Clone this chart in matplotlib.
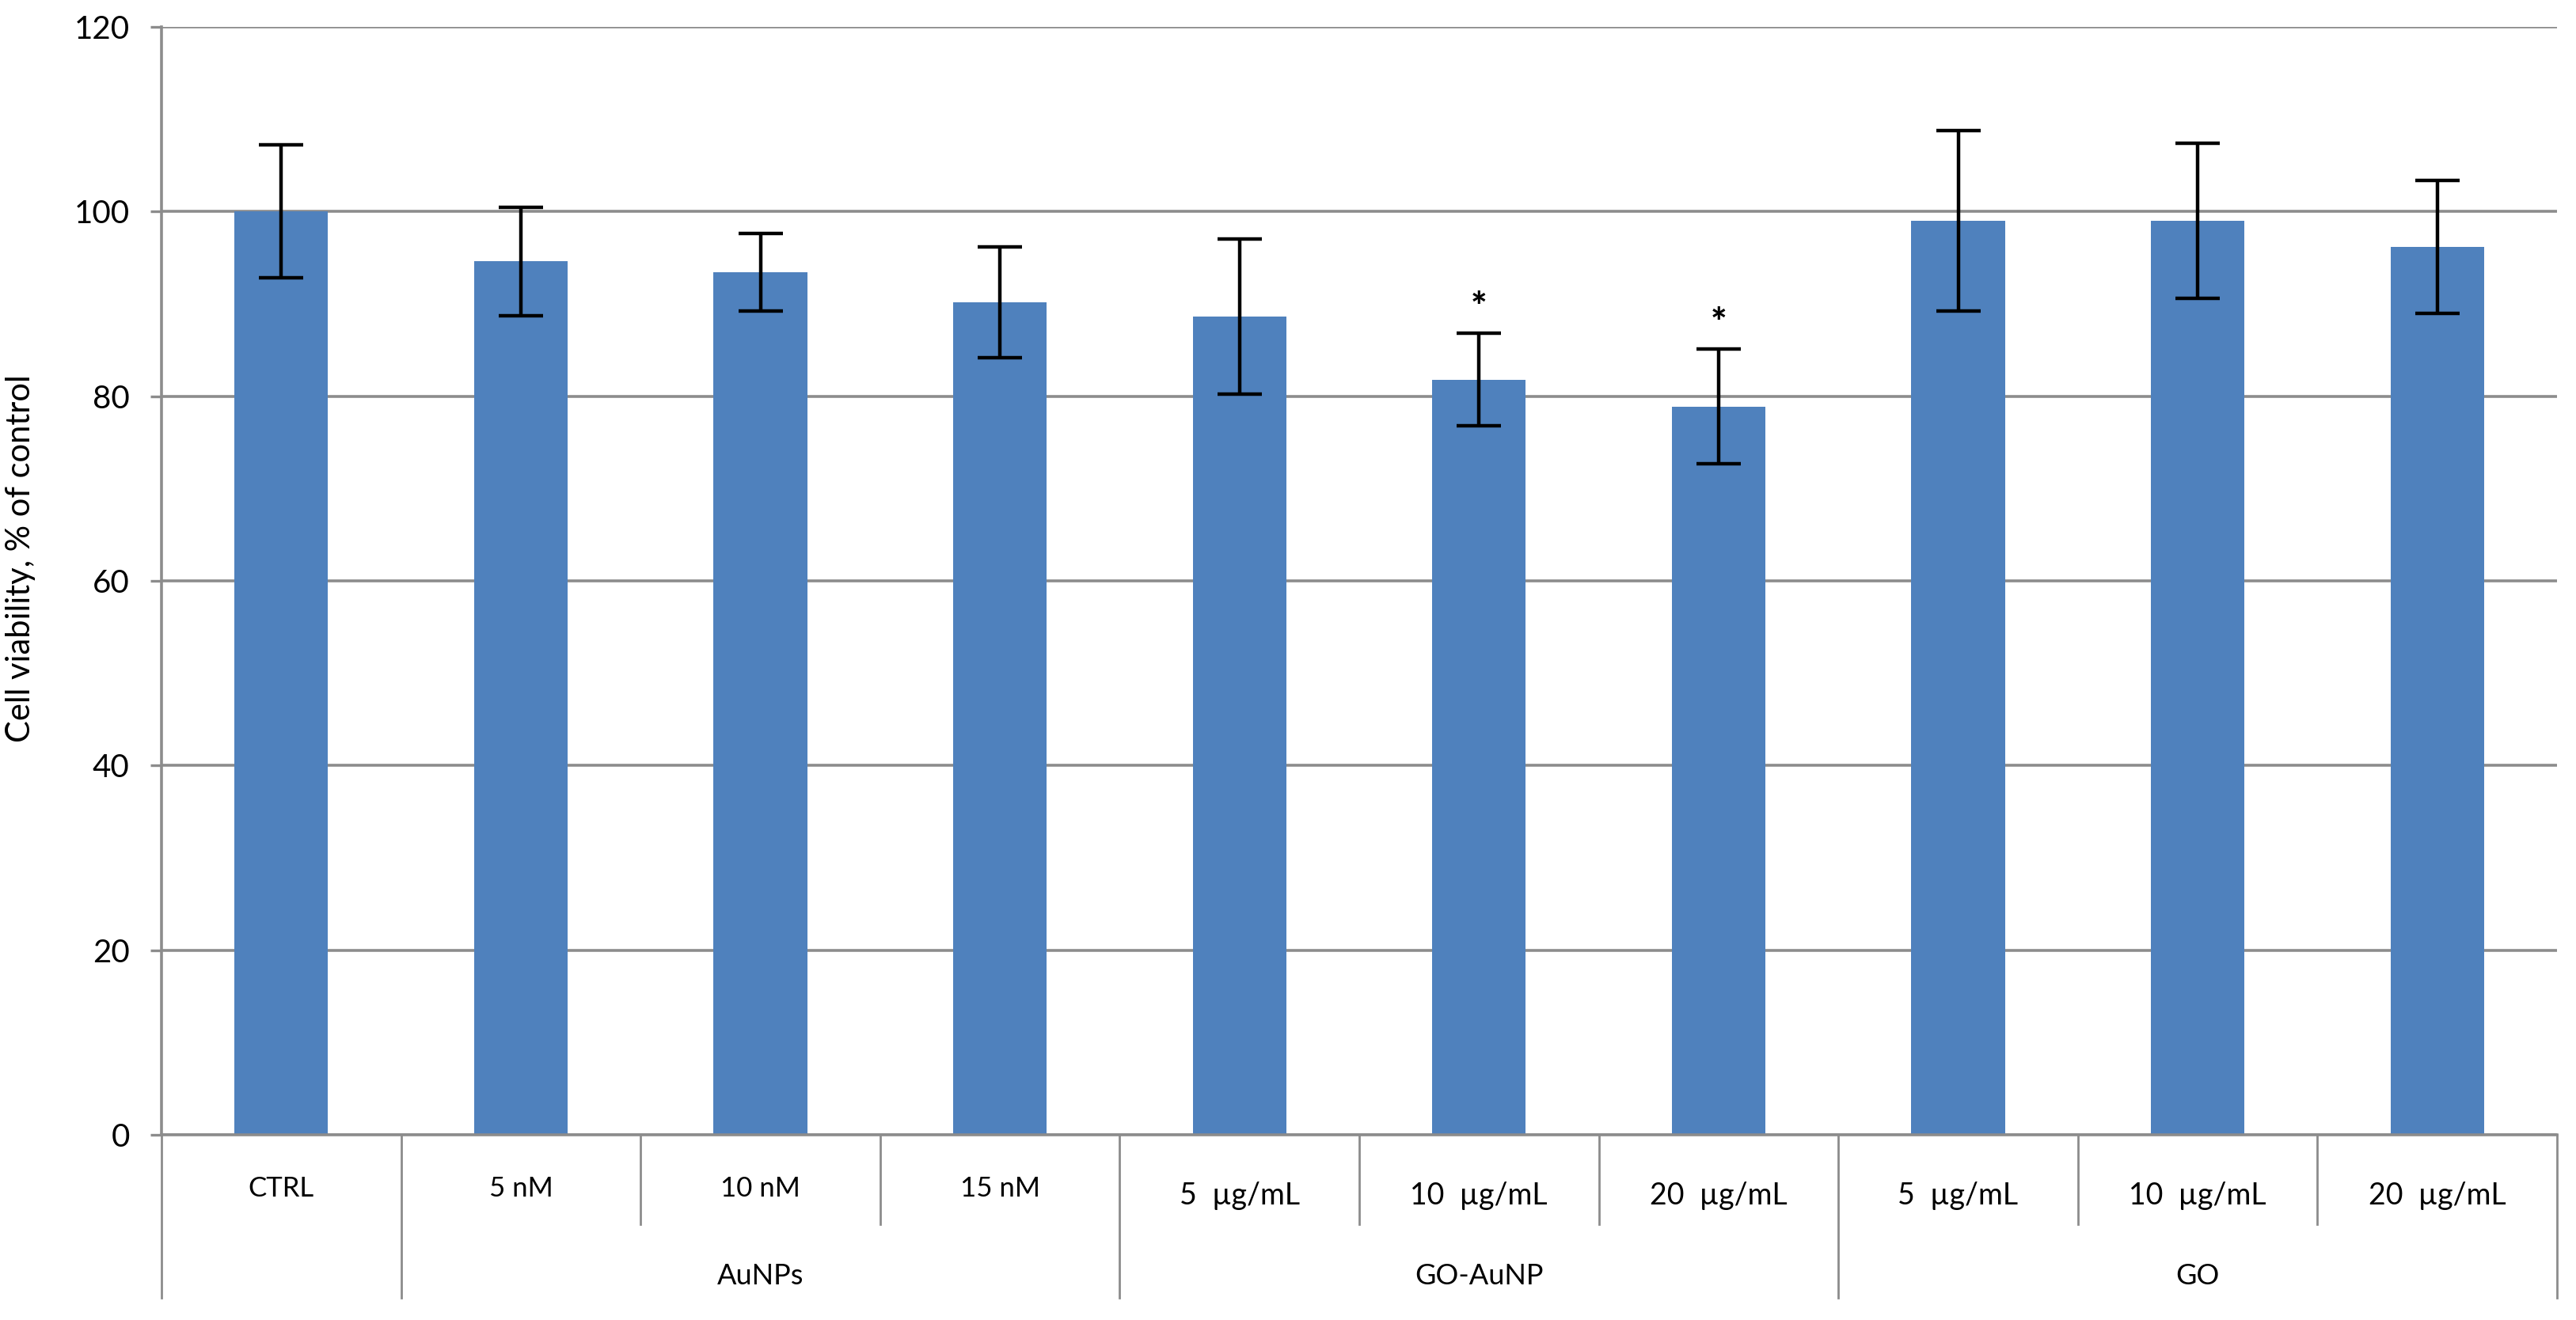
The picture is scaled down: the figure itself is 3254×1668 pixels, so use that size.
import matplotlib
matplotlib.use("Agg")
import matplotlib.pyplot as plt
import matplotlib.transforms as mtransforms

plt.rcParams['font.family'] = ['Lato', 'DejaVu Sans']

# data
conditions = ["CTRL", "5 nM", "10 nM", "15 nM",
              "5  µg/mL", "10  µg/mL", "20  µg/mL",
              "5  µg/mL", "10  µg/mL", "20  µg/mL"]
groups = ["", "AuNPs", "GO-AuNP", "GO"]
group_sizes = [1, 3, 3, 3]
viability = [100.0, 94.6, 93.4, 90.2, 88.6, 81.8, 78.9, 99.0, 99.0, 96.2]
errors = [7.2, 5.9, 4.2, 6.0, 8.4, 5.0, 6.2, 9.8, 8.4, 7.2]
significant = [False, False, False, False, False, True, True, False, False, False]
yticks = [0, 20, 40, 60, 80, 100, 120]

W, H = 3255, 1668
DPI = 100
fig = plt.figure(figsize=(W / DPI, H / DPI), dpi=DPI)
left_px, right_px, top_px, zero_px = 204, 3230, 34, 1434
ax = fig.add_axes([left_px / W, 1 - zero_px / H,
                   (right_px - left_px) / W, (zero_px - top_px) / H])

grey = "#8c8c8c"
bar_blue = "#4f81bd"

x = list(range(len(conditions)))
ax.bar(x, viability, width=0.39, color=bar_blue, zorder=2)
ax.errorbar(x, viability, yerr=errors, fmt="none", ecolor="black",
            elinewidth=3.2, capsize=20, capthick=3.2, zorder=3)

for xi, v, e, s in zip(x, viability, errors, significant):
    if s:
        ax.annotate("*", (xi, v + e), xytext=(0, 6), textcoords="offset points",
                    ha="center", va="bottom", fontsize=35, fontweight="black")

ax.set_xlim(-0.5, len(conditions) - 0.5)
ax.set_ylim(0, 120)
ax.set_yticks(yticks)
ax.yaxis.grid(True, color=grey, linewidth=2.6, zorder=0)
ax.set_axisbelow(True)
ax.tick_params(axis="y", length=10, width=2.4, color=grey, pad=19, labelsize=29)
ax.set_xticks([])
for side in ["top", "right"]:
    ax.spines[side].set_visible(False)
for side in ["left", "bottom"]:
    ax.spines[side].set_color(grey)
    ax.spines[side].set_linewidth(2.6)

ax.set_ylabel("Cell viability, % of control", fontsize=30)
ax.yaxis.set_label_coords(-0.0525, 0.52)

# two-level category axis below the plot
trans = mtransforms.blended_transform_factory(ax.transData, ax.transAxes)
plot_h = zero_px - top_px


def fy(py):
    return (zero_px - py) / plot_h


for xi, lab in zip(x, conditions):
    if "µg" in lab:
        ax.text(xi, fy(1522), lab, transform=trans, ha="center",
                va="baseline", fontsize=27)
    else:
        ax.text(xi, fy(1512), lab, transform=trans, ha="center",
                va="baseline", fontsize=25)

start = 0
long_edges = [-0.5]
for g, n in zip(groups, group_sizes):
    centre = start + (n - 1) / 2
    if g:
        ax.text(centre, fy(1623), g, transform=trans, ha="center",
                va="baseline", fontsize=26)
    start += n
    long_edges.append(start - 0.5)

for i in range(len(conditions) + 1):
    edge = i - 0.5
    bottom = fy(1640) if edge in long_edges else fy(1547)
    ax.plot([edge, edge], [0, bottom], transform=trans, color=grey,
            linewidth=2.0, clip_on=False)

fig.savefig("out.png", dpi=DPI, facecolor="white")
